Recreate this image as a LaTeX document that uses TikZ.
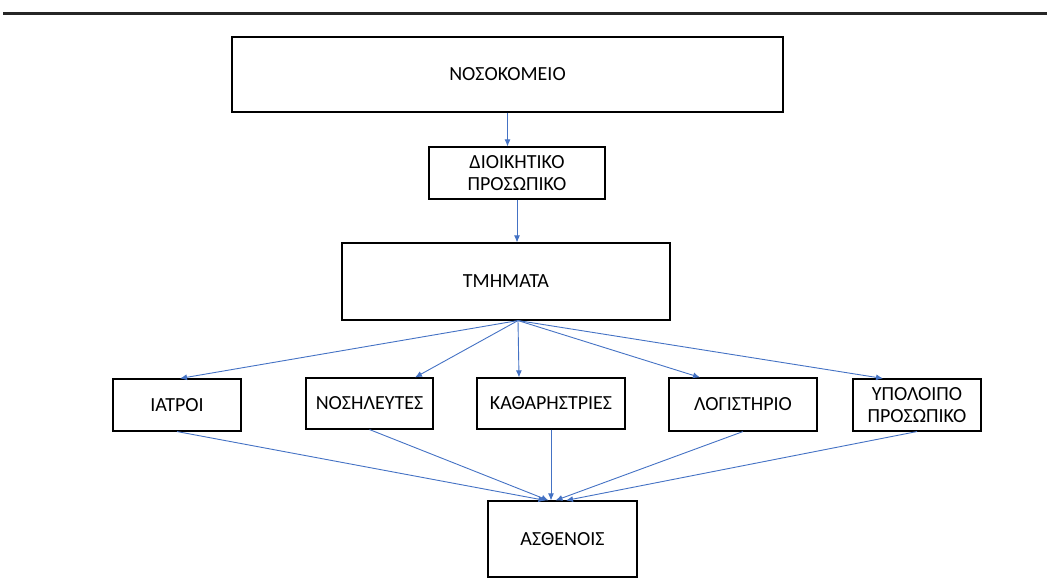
\documentclass[tikz,border=0pt]{standalone}
\usepackage{fontspec}
\setmainfont{Carlito}
\usetikzlibrary{arrows.meta, positioning, calc}
\definecolor{officeblue}{RGB}{68,114,196}
\definecolor{rulegray}{RGB}{38,38,38}
\tikzstyle{boxw}=[shape=rectangle, draw=black, line width=1.1pt, fill=white, inner sep=0pt, align=center, font=\fontsize{20}{22}\selectfont]
\tikzstyle{arrb}=[draw=officeblue, line width=0.9pt, -{Latex[length=7pt,width=6pt]}]

\begin{document}
\begin{tikzpicture}[x=1pt, y=-1pt]
\useasboundingbox (0,0) rectangle (1047,583);
\draw [rulegray, line width=3pt] (3,14) -- (1047,14);
\node [boxw, minimum width=551pt, minimum height=75pt] (nos) at (507.5,74.5) {ΝΟΣΟΚΟΜΕΙΟ};
\node [boxw, minimum width=176pt, minimum height=52pt] (dio) at (517,173) {ΔΙΟΙΚΗΤΙΚΟ\\ΠΡΟΣΩΠΙΚΟ};
\node [boxw, minimum width=328pt, minimum height=77pt] (tmi) at (506,281.5) {ΤΜΗΜΑΤΑ};
\node [boxw, minimum width=128pt, minimum height=52pt] (iat) at (177,405) {ΙΑΤΡΟΙ};
\node [boxw, minimum width=127pt, minimum height=51pt] (nosi) at (369.5,403.5) {ΝΟΣΗΛΕΥΤΕΣ};
\node [boxw, minimum width=148pt, minimum height=51pt] (kath) at (551,403.5) {ΚΑΘΑΡΗΣΤΡΙΕΣ};
\node [boxw, minimum width=148pt, minimum height=53pt] (log) at (743,404.5) {ΛΟΓΙΣΤΗΡΙΟ};
\node [boxw, minimum width=128pt, minimum height=52pt] (ypo) at (917,405) {ΥΠΟΛΟΙΠΟ\\ΠΡΟΣΩΠΙΚΟ};
\node [boxw, minimum width=149pt, minimum height=76pt] (asth) at (562.5,539) {ΑΣΘΕΝΟΙΣ};
\coordinate (tout) at ($(tmi.south)+(12,0)$);
\draw [arrb] (nos.south) -- (nos.south |- dio.north);
\draw [arrb] (dio.south) -- (dio.south |- tmi.north);
\draw [arrb] (tout) -- ($(iat.north)+(3,0)$);
\draw [arrb] (tout) -- ($(nosi.north)+(45.5,0)$);
\draw [arrb] (tout) -- ($(kath.north)+(-32,0)$);
\draw [arrb] (tout) -- ($(log.north)+(-43,0)$);
\draw [arrb] (tout) -- ($(ypo.north)+(-34,0)$);
\draw [arrb] (iat.south) -- ($(asth.north)+(-17,0)$);
\draw [arrb] (nosi.south) -- ($(asth.north)+(-14,0)$);
\draw [arrb] (kath.south) -- ($(asth.north)+(-11.5,0)$);
\draw [arrb] (log.south) -- ($(asth.north)+(-7,0)$);
\draw [arrb] (ypo.south) -- ($(asth.north)+(3.5,0)$);
\end{tikzpicture}
\end{document}
